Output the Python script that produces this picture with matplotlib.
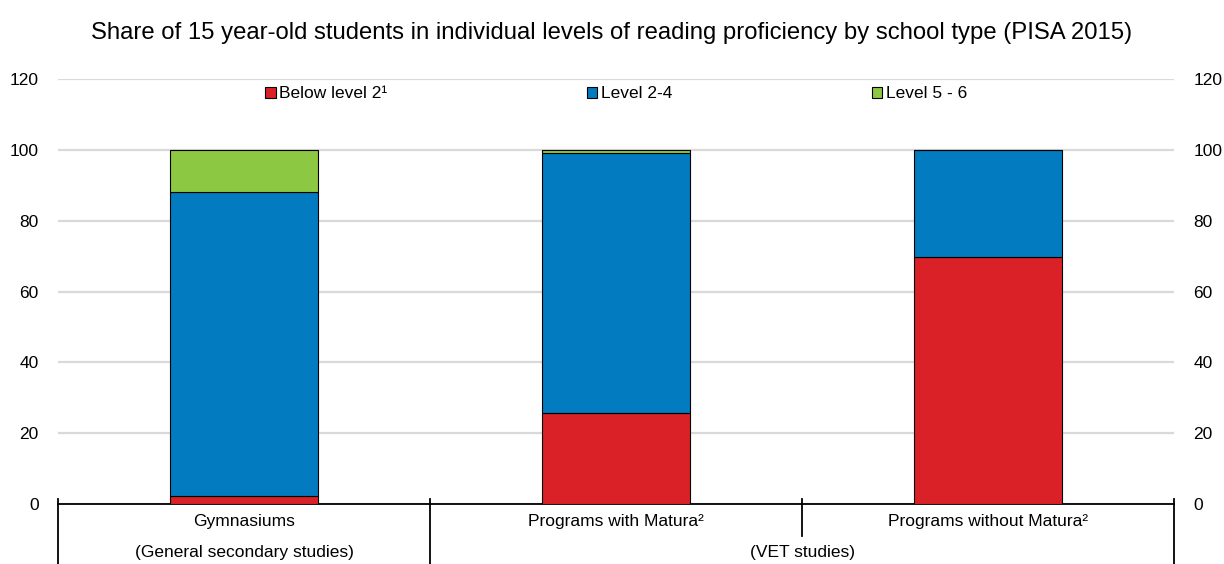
import numpy as np
import matplotlib
matplotlib.use('Agg')
import matplotlib.pyplot as plt
import matplotlib.transforms as mtransforms

plt.rcParams['font.family'] = ['Liberation Sans', 'DejaVu Sans']

# data
categories = ['Gymnasiums', 'Programs with Matura²', 'Programs without Matura²']
groups = ['(General secondary studies)', '(VET studies)']
series = ['Below level 2¹', 'Level 2-4', 'Level 5 - 6']
below2 = [2.3, 25.8, 69.8]
level24 = [85.8, 73.4, 30.2]
level56 = [11.9, 0.8, 0.0]
yticks = [0, 20, 40, 60, 80, 100, 120]

colors = ['#da2128', '#037bc1', '#8cc841']
fs = 12.5

fig = plt.figure(figsize=(12.24, 5.64), dpi=100)
ax = fig.add_axes([58/1224, 1-504/564, 1116/1224, 425/564])

x = np.arange(len(categories))
bottom = np.zeros(len(categories))
for name, vals, c in zip(series, [below2, level24, level56], colors):
    ax.bar(x, vals, 0.4, bottom=bottom, color=c, edgecolor='black',
           linewidth=0.8, label=name, zorder=3)
    bottom += np.array(vals)

ax.set_xlim(-0.5, 2.5)
ax.set_ylim(0, 120)
ax.set_yticks(yticks)
ax.yaxis.grid(True, color='#d9d9d9', linewidth=1.6, zorder=0)
ax.set_axisbelow(True)
ax.tick_params(axis='y', length=0, labelleft=True, labelright=True,
               labelsize=fs, pad=14)
ax.set_xticks([])
for s in ['top', 'left', 'right']:
    ax.spines[s].set_visible(False)
ax.spines['bottom'].set_linewidth(1.3)

# category axis: labels and separators below the plot
trans = mtransforms.blended_transform_factory(ax.transData, ax.transAxes)
for xi, lab in zip(x, categories):
    ax.text(xi, -0.042, lab, transform=trans, ha='center', va='center', fontsize=fs)
ax.text(0, -0.115, groups[0], transform=trans, ha='center', va='center', fontsize=fs)
ax.text(1.5, -0.115, groups[1], transform=trans, ha='center', va='center', fontsize=fs)
for xs in [-0.5, 0.5, 2.5]:
    ax.plot([xs, xs], [0.012, -0.16], transform=trans, color='black', lw=1.3, clip_on=False)
ax.plot([1.5, 1.5], [0.012, -0.075], transform=trans, color='black', lw=1.3, clip_on=False)

ax.legend(loc='center', bbox_to_anchor=(0.5, 0.965), ncol=3, frameon=False,
          fontsize=fs, handlelength=0.6, handleheight=0.6, handletextpad=0.2,
          columnspacing=11.5, borderaxespad=0)

fig.text(0.5, 1-33/564, 'Share of 15 year-old students in individual levels of reading proficiency by school type (PISA 2015)',
         ha='center', va='center', fontsize=17.2)

fig.savefig('out.png', dpi=100)
